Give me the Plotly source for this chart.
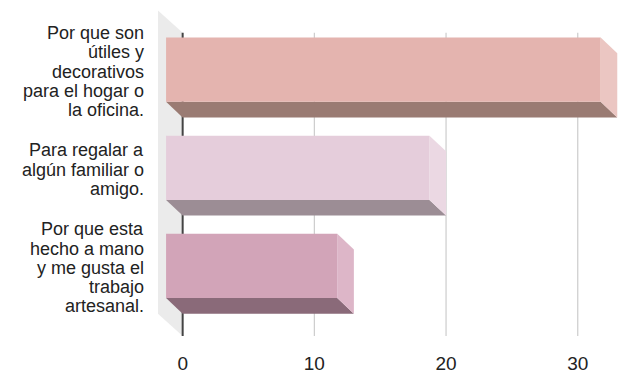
import plotly.graph_objects as go

# Survey answers (Spanish), one list of wrapped lines per answer, and counts
categories = [
    ["Por que son", "útiles y", "decorativos", "para el hogar o", "la oficina."],
    ["Para regalar a", "algún familiar o", "amigo."],
    ["Por que esta", "hecho a mano", "y me gusta el", "trabajo", "artesanal."],
]
values = [33, 20, 13]
tick_vals = [0, 10, 20, 30]
tick_text = ["0", "10", "20", "30"]

# Face colours per bar: front, bottom (shadow), right side
front_colors = ["#E4B4AF", "#E5CDDB", "#D2A4B8"]
bottom_colors = ["#9A7B73", "#9C8D95", "#8A6A79"]
side_colors = ["#EBC6C2", "#EBD8E3", "#DDB6C8"]

# Pseudo-3D geometry (x in value units, y in category units, y grows downward)
BAR_H = 0.655      # height of the front face
DX = 1.26          # depth offset of bars along x
DY = 0.16          # depth offset of bars along y
WALL_DX = 1.875    # depth of the left wall along x
WALL_DY = 0.228    # depth of the left wall along y
PLANE_TOP = -0.376
PLANE_BOT = 2.715
LINE_STEP = 0.1965  # label line spacing in category units

X_RANGE = [-13.87, 33.36]
Y_RANGE = [PLANE_BOT, -0.71]

fig = go.Figure()


def poly(xs, ys, color):
    fig.add_trace(go.Scatter(
        x=xs + [xs[0]], y=ys + [ys[0]], mode="lines", fill="toself",
        fillcolor=color, line=dict(width=0, color=color),
        hoverinfo="skip", showlegend=False,
    ))


# left wall
poly([-WALL_DX, 0, 0, -WALL_DX],
     [PLANE_TOP - WALL_DY, PLANE_TOP, PLANE_BOT, PLANE_BOT - WALL_DY],
     "#EBEBEB")

# vertical gridlines
for t in tick_vals[1:]:
    fig.add_trace(go.Scatter(
        x=[t, t], y=[PLANE_TOP, PLANE_BOT], mode="lines",
        line=dict(color="#CCCCCC", width=1.2),
        hoverinfo="skip", showlegend=False,
    ))

# baseline axis at zero
fig.add_trace(go.Scatter(
    x=[0, 0], y=[PLANE_TOP, PLANE_BOT], mode="lines",
    line=dict(color="#444444", width=2),
    hoverinfo="skip", showlegend=False,
))

# bars
for i, v in enumerate(values):
    top = i - BAR_H / 2
    bot = i + BAR_H / 2
    # bottom face
    poly([-DX, v - DX, v, 0], [bot, bot, bot + DY, bot + DY], bottom_colors[i])
    # right face
    poly([v - DX, v, v, v - DX], [top, top + DY, bot + DY, bot], side_colors[i])
    # front face
    poly([-DX, v - DX, v - DX, -DX], [top, top, bot, bot], front_colors[i])

# category labels, one annotation per wrapped line, centred on the bar
for i, lines in enumerate(categories):
    n = len(lines)
    for k, line in enumerate(lines):
        fig.add_annotation(
            x=146 / 622, xref="paper",
            y=i + 0.02 + (k - (n - 1) / 2) * LINE_STEP,
            yref="y", text=line, showarrow=False, xanchor="right",
            yanchor="middle", align="right",
            font=dict(size=18, color="#222222"),
        )

fig.update_layout(
    width=622, height=374,
    margin=dict(l=0, r=0, t=0, b=29),
    paper_bgcolor="white", plot_bgcolor="white",
    font=dict(family="Liberation Sans, Arial, sans-serif", color="#222222"),
    xaxis=dict(
        range=X_RANGE, tickvals=tick_vals, ticktext=tick_text,
        showgrid=False, zeroline=False, showline=False,
        ticks="outside", ticklen=10, tickcolor="rgba(0,0,0,0)",
        tickfont=dict(size=19, color="#222222"), fixedrange=True,
    ),
    yaxis=dict(
        range=Y_RANGE, showgrid=False, zeroline=False, showline=False,
        showticklabels=False, fixedrange=True,
    ),
    showlegend=False,
)

fig.write_html("out.html")
